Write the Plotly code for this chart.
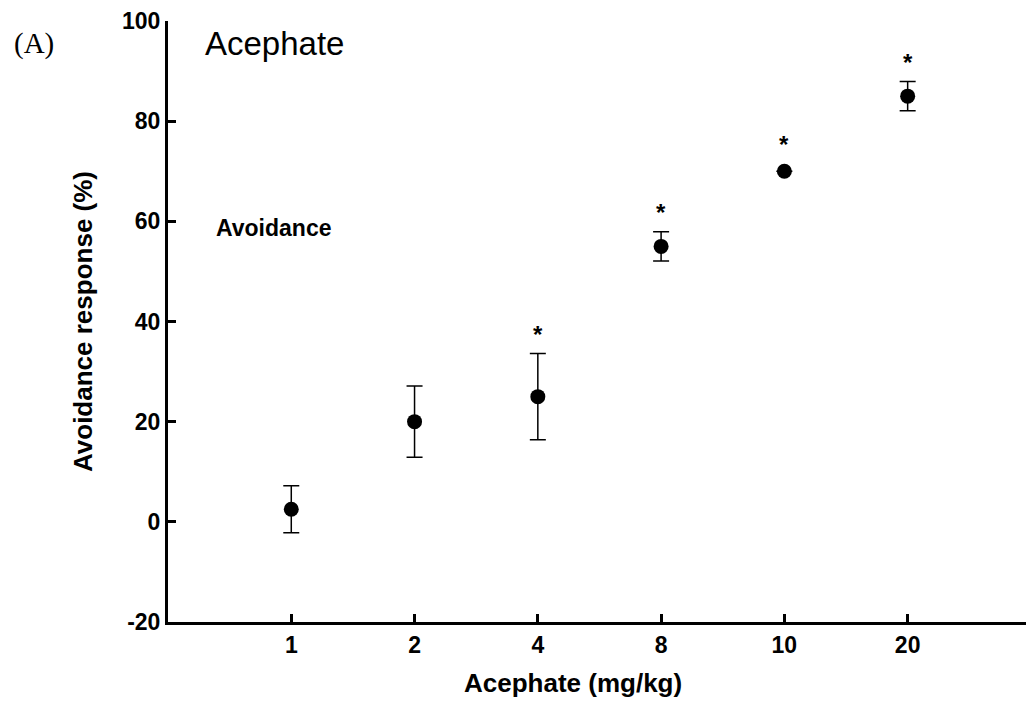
import plotly.graph_objects as go

doses = ["1", "2", "4", "8", "10", "20"]
avoidance = [2.5, 20, 25, 55, 70, 85]
sem = [4.7, 7.1, 8.6, 2.9, 0, 2.9]
significant = [False, False, True, True, True, True]
y_ticks = [-20, 0, 20, 40, 60, 80, 100]
y_tick_labels = ["-20", "0", "20", "40", "60", "80", "100"]

FONT = "Liberation Sans, Arial, sans-serif"
pos = list(range(1, len(doses) + 1))

fig = go.Figure()
fig.add_trace(go.Scatter(
    x=pos, y=avoidance, mode="markers",
    marker=dict(size=15, color="black"),
    error_y=dict(type="data", array=sem, visible=True, color="black",
                 thickness=1.5, width=8),
    showlegend=False, cliponaxis=False,
))

for p, m, e, s in zip(pos, avoidance, sem, significant):
    if s:
        fig.add_annotation(x=p, y=m + e, text="<b>*</b>", showarrow=False,
                           yanchor="middle", yshift=19 if e > 0 else 27,
                           font=dict(family=FONT, size=24, color="black"))

fig.add_annotation(xref="paper", yref="paper", x=0.041, y=0.962,
                   text="Acephate", showarrow=False, xanchor="left",
                   yanchor="middle",
                   font=dict(family=FONT, size=33, color="black"))
fig.add_annotation(xref="paper", yref="paper", x=0.054, y=0.656,
                   text="<b>Avoidance</b>", showarrow=False, xanchor="left",
                   yanchor="middle",
                   font=dict(family=FONT, size=23, color="black"))
fig.add_annotation(xref="paper", yref="paper", x=-0.182, y=0.962,
                   text="(A)", showarrow=False, xanchor="left",
                   yanchor="middle",
                   font=dict(family="Liberation Serif, Times New Roman, serif",
                             size=29, color="black"))
# x-axis title (offset left of plot centre as in the original)
fig.add_annotation(xref="paper", yref="paper", x=0.472, y=-0.1015,
                   text="<b>Acephate (mg/kg)</b>", showarrow=False,
                   xanchor="center", yanchor="middle",
                   font=dict(family=FONT, size=26, color="black"))

fig.update_xaxes(
    range=[0, 6.96], tickvals=pos, ticktext=doses,
    showline=True, linecolor="black", linewidth=3,
    ticks="inside", ticklen=8, tickwidth=3, tickcolor="black",
    tickfont=dict(family=FONT, size=23, color="black", weight="bold"),
    showgrid=False, zeroline=False,
)
fig.update_yaxes(
    range=[-20, 100], tickvals=y_ticks, ticktext=y_tick_labels,
    showline=True, linecolor="black",
    linewidth=3, ticks="inside", ticklen=8, tickwidth=3, tickcolor="black",
    tickfont=dict(family=FONT, size=23, color="black", weight="bold"),
    showgrid=False, zeroline=False,
    title=dict(text="<b>Avoidance response (%)</b>", standoff=22,
               font=dict(family=FONT, size=26, color="black")),
)

fig.update_layout(
    width=1026, height=704,
    margin=dict(l=168, r=0, t=21, b=82),
    plot_bgcolor="white", paper_bgcolor="white",
)

fig.write_html("out.html")
